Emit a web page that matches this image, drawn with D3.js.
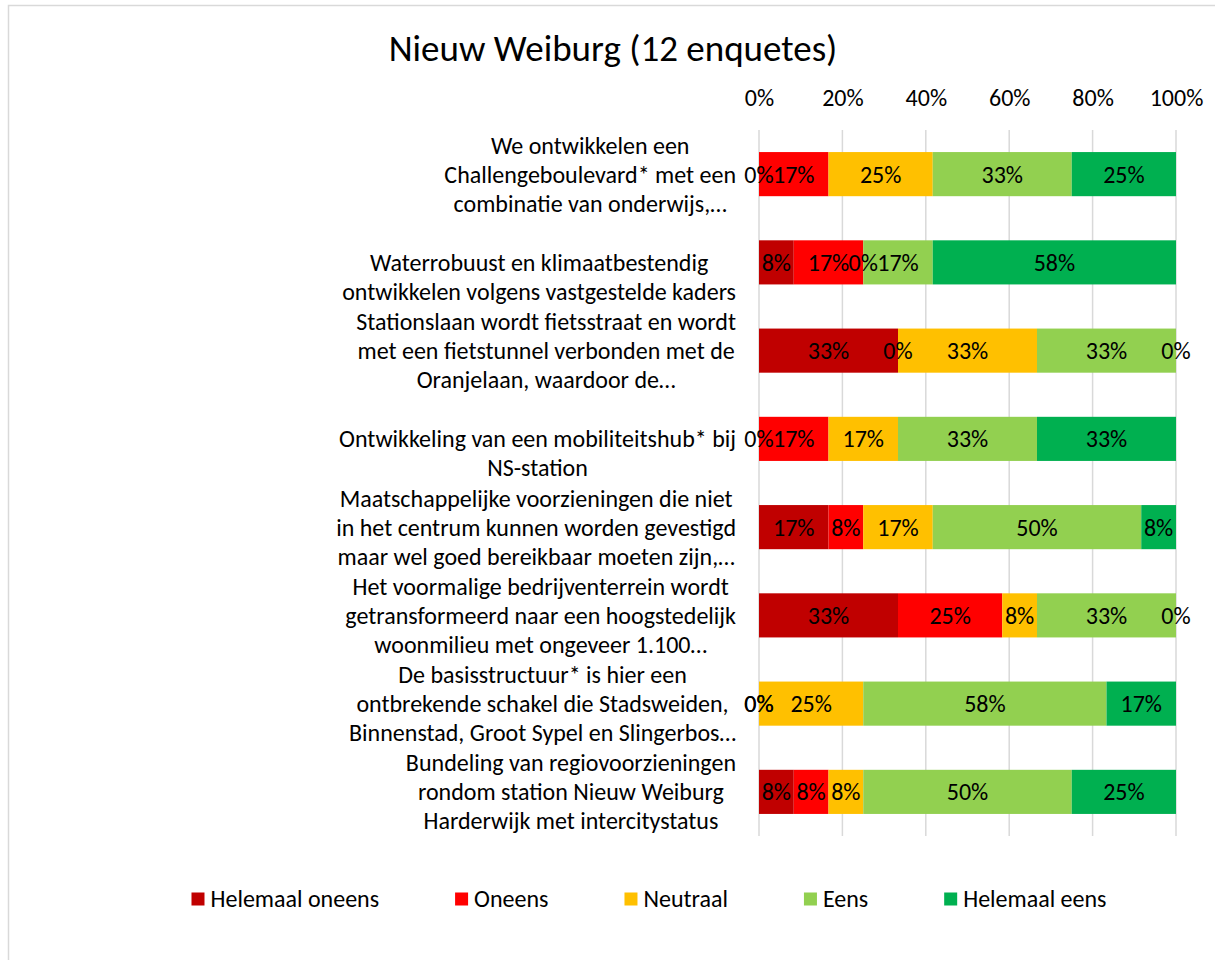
<!DOCTYPE html>
<html>
<head>
<meta charset="utf-8">
<script src="https://cdn.jsdelivr.net/npm/d3@7"></script>
<style>
  body { margin: 0; background: #fff; }
  text { font-family: Carlito, Calibri, Lato, sans-serif; fill: #000; }
</style>
</head>
<body>
<svg width="1215" height="960"></svg>
<script>
var width = 1215, height = 960;

var title = 'Nieuw Weiburg (12 enquetes)';
var responses = 12;

// statements, one array of lines each ('' = empty first line)
var statements = [
    ['We ontwikkelen een', 'Challengeboulevard* met een', 'combinatie van onderwijs,…'],
    ['', 'Waterrobuust en klimaatbestendig', 'ontwikkelen volgens vastgestelde kaders'],
    ['Stationslaan wordt fietsstraat en wordt', 'met een fietstunnel verbonden met de', 'Oranjelaan, waardoor de…'],
    ['', 'Ontwikkeling van een mobiliteitshub* bij', 'NS-station'],
    ['Maatschappelijke voorzieningen die niet', 'in het centrum kunnen worden gevestigd', 'maar wel goed bereikbaar moeten zijn,…'],
    ['Het voormalige bedrijventerrein wordt', 'getransformeerd naar een hoogstedelijk', 'woonmilieu met ongeveer 1.100…'],
    ['De basisstructuur* is hier een', 'ontbrekende schakel die Stadsweiden,', 'Binnenstad, Groot Sypel en Slingerbos…'],
    ['Bundeling van regiovoorzieningen', 'rondom station Nieuw Weiburg', 'Harderwijk met intercitystatus']
];

var seriesNames = ['Helemaal oneens', 'Oneens', 'Neutraal', 'Eens', 'Helemaal eens'];
var seriesColors = ['#C00000', '#FF0000', '#FFC000', '#92D050', '#00B050'];

// number of answers (out of 12) per statement
var helemaalOneens = [0, 1, 4, 0, 2, 4, 0, 1];
var oneens         = [2, 2, 0, 2, 1, 3, 0, 1];
var neutraal       = [3, 0, 4, 2, 2, 1, 3, 1];
var eens           = [4, 2, 4, 4, 6, 4, 7, 6];
var helemaalEens   = [3, 7, 0, 4, 1, 0, 2, 3];

var xTicks = [0, 0.2, 0.4, 0.6, 0.8, 1];

var seriesValues = [helemaalOneens, oneens, neutraal, eens, helemaalEens];

var rows = statements.map(function (s, i) {
    var r = { id: i };
    seriesNames.forEach(function (name, k) {
        r[name] = seriesValues[k][i] / responses;
    });
    return r;
});

var svg = d3.select('svg');
var pct = d3.format('.0%');

// chart frame
svg.append('rect')
    .attr('x', 8.5).attr('y', 5.5)
    .attr('width', 1300).attr('height', 1000)
    .attr('fill', 'none')
    .attr('stroke', '#d9d9d9')
    .attr('stroke-width', 1.5);

var x = d3.scaleLinear().domain([0, 1]).range([759, 1176]);
var y = d3.scaleBand().domain(d3.range(statements.length)).range([130, 836]).paddingInner(0.5).paddingOuter(0.25);

svg.append('text')
    .attr('x', 613).attr('y', 61)
    .attr('text-anchor', 'middle')
    .style('font-size', '37px')
    .text(title);

// gridlines
svg.append('g')
    .selectAll('line')
    .data(xTicks)
    .join('line')
    .attr('x1', function (d) { return x(d); })
    .attr('x2', function (d) { return x(d); })
    .attr('y1', 130).attr('y2', 836)
    .attr('stroke', '#d9d9d9')
    .attr('stroke-width', 1.5);

// top axis
var axis = svg.append('g')
    .attr('transform', 'translate(0,106)')
    .call(d3.axisTop(x).tickValues(xTicks).tickFormat(pct).tickSize(0).tickPadding(0));
axis.select('.domain').remove();
axis.selectAll('text')
    .style('font-size', '24px')
    .style('font-family', 'Carlito, Calibri, Lato, sans-serif')
    .attr('fill', '#000')
    .attr('dy', 0);

var stack = d3.stack().keys(seriesNames);
var layers = stack(rows);

var bars = svg.append('g')
    .selectAll('g')
    .data(layers)
    .join('g')
    .attr('fill', function (d, i) { return seriesColors[i]; });

bars.selectAll('rect')
    .data(function (d) { return d; })
    .join('rect')
    .attr('x', function (d) { return x(d[0]); })
    .attr('width', function (d) { return x(d[1]) - x(d[0]); })
    .attr('y', function (d, i) { return y(i); })
    .attr('height', y.bandwidth());

// data labels
svg.append('g')
    .selectAll('g')
    .data(layers)
    .join('g')
    .selectAll('text')
    .data(function (d) { return d; })
    .join('text')
    .attr('x', function (d) { return x((d[0] + d[1]) / 2); })
    .attr('y', function (d, i) { return y(i) + y.bandwidth() / 2; })
    .attr('dy', '0.35em')
    .attr('text-anchor', 'middle')
    .style('font-size', '24px')
    .text(function (d) { return pct(d[1] - d[0]); });

// category labels: block right aligned, lines centred in block
var labelRight = 736, lineH = 29;
var labels = svg.append('g')
    .selectAll('g')
    .data(statements)
    .join('g');

labels.each(function (lines, i) {
    var g = d3.select(this);
    var cy = y(i) + y.bandwidth() / 2;
    var texts = g.selectAll('text')
        .data(lines)
        .join('text')
        .attr('y', function (d, j) { return cy + (j - (lines.length - 1) / 2) * lineH; })
        .attr('dy', '0.35em')
        .attr('text-anchor', 'middle')
        .style('font-size', '24px')
        .text(function (d) { return d; });
    var w = 0;
    texts.each(function () { w = Math.max(w, this.getComputedTextLength()); });
    texts.attr('x', labelRight - w / 2);
});

// legend
var legend = svg.append('g');
var items = legend.selectAll('g')
    .data(seriesNames)
    .join('g');
items.append('rect')
    .attr('width', 13).attr('height', 13)
    .attr('y', -6.5)
    .attr('fill', function (d, i) { return seriesColors[i]; });
items.append('text')
    .attr('x', 19)
    .attr('dy', '0.35em')
    .style('font-size', '24px')
    .text(function (d) { return d; });

var pos = 0, starts = [];
items.each(function () {
    starts.push(pos);
    pos += 19 + d3.select(this).select('text').node().getComputedTextLength() + 76;
});
var totalW = pos - 76;
var legendLeft = 649 - totalW / 2;
items.attr('transform', function (d, i) { return 'translate(' + (legendLeft + starts[i]) + ',899)'; });
</script>
</body>
</html>
